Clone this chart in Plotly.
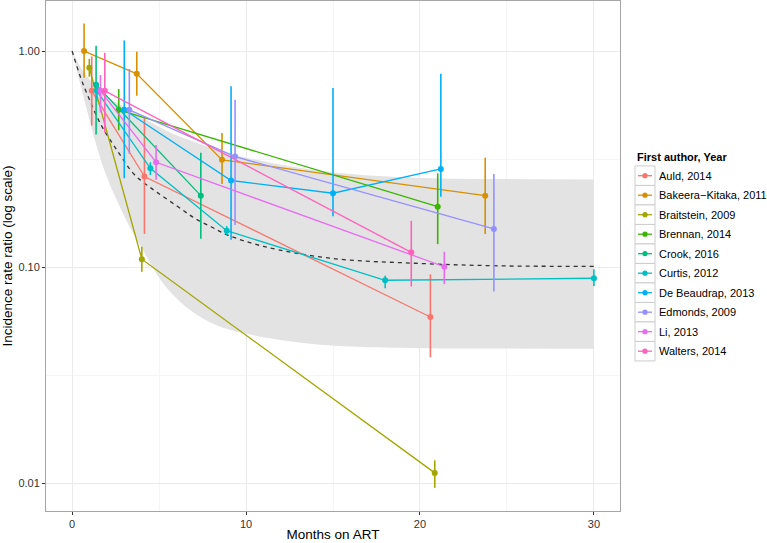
import plotly.graph_objects as go

# Pooled fit (dashed) and its band
fit_x = [0, 0.48, 0.86, 1.63, 2.59, 3.55, 4.16, 4.89, 6.07, 7.03, 7.99, 8.95, 11.0, 14.9, 19.7, 24.5, 30]
fit_y = [1.0, 0.758, 0.634, 0.461, 0.347, 0.27, 0.245, 0.222, 0.191, 0.169, 0.154, 0.141, 0.125, 0.110, 0.1044, 0.1016, 0.101]

band_hi_x = [0, 0.5, 1, 1.67, 2.5, 3.55, 4.48, 5.5, 7.36, 9, 11.2, 14.1, 16, 20, 25, 30]
band_hi_y = [1.0, 0.84, 0.74, 0.65, 0.58, 0.524, 0.471, 0.425, 0.372, 0.337, 0.307, 0.28, 0.27, 0.259, 0.256, 0.255]
band_lo_x = [0, 0.4, 0.86, 1.3, 1.86, 2.5, 3.2, 3.97, 5.11, 6.0, 7.0, 8.3, 9.9, 11.7, 13.7, 16, 20, 25, 30]
band_lo_y = [1.0, 0.74, 0.531, 0.39, 0.28, 0.21, 0.16, 0.124, 0.087, 0.072, 0.0616, 0.054, 0.0495, 0.0465, 0.0443, 0.043, 0.0422, 0.0421, 0.042]

# Studies: months, IRR, upper and lower limits
studies = ["Auld, 2014", "Bakeera−Kitaka, 2011", "Braitstein, 2009", "Brennan, 2014", "Crook, 2016",
           "Curtis, 2012", "De Beaudrap, 2013", "Edmonds, 2009", "Li, 2013", "Walters, 2014"]
colors = ["#F8766D", "#D89000", "#A3A500", "#39B600", "#00BF7D",
          "#00BFC4", "#00B0F6", "#9590FF", "#E76BF3", "#FF62BC"]

months = [
    [1.13, 4.16, 20.6],
    [0.69, 3.72, 8.62, 23.75],
    [0.99, 4.01, 20.85],
    [2.68, 21.02],
    [1.38, 7.4],
    [1.42, 4.5, 8.89, 18.0, 30.0],
    [3.0, 9.14, 15.0, 21.2],
    [3.29, 9.37, 24.25],
    [1.63, 4.83, 21.4],
    [1.88, 19.5],
]
irr = [
    [0.655, 0.263, 0.0589],
    [1.0, 0.785, 0.314, 0.2145],
    [0.837, 0.109, 0.0112],
    [0.535, 0.1908],
    [0.698, 0.2145],
    [0.655, 0.287, 0.1477, 0.0871, 0.089],
    [0.535, 0.252, 0.22, 0.285],
    [0.535, 0.325, 0.1505],
    [0.655, 0.306, 0.1006],
    [0.655, 0.1173],
]
irr_hi = [
    [0.945, 0.49, 0.0928],
    [1.34, 0.993, 0.418, 0.321],
    [0.921, 0.1246, 0.0128],
    [0.668, 0.272],
    [1.058, 0.339],
    [0.72, 0.306, 0.155, 0.0913, 0.098],
    [1.12, 0.688, 0.674, 0.785],
    [0.826, 0.595, 0.27],
    [0.775, 0.368, 0.118],
    [0.982, 0.164],
]
irr_lo = [
    [0.452, 0.1426, 0.0384],
    [0.752, 0.621, 0.243, 0.1426],
    [0.76, 0.0954, 0.00955],
    [0.43, 0.128],
    [0.411, 0.1356],
    [0.6, 0.267, 0.141, 0.0799, 0.082],
    [0.258, 0.134, 0.172, 0.212],
    [0.335, 0.157, 0.0772],
    [0.52, 0.254, 0.0836],
    [0.42, 0.0815],
]

FONT = "Liberation Sans, Arial, sans-serif"
W, H = 767, 543
M = dict(l=46, r=147, t=1, b=32)
PW, PH = W - M["l"] - M["r"], H - M["t"] - M["b"]


def px(x):  # pixel -> paper x
    return (x - M["l"]) / PW


def py(y):  # pixel -> paper y
    return (H - M["b"] - y) / PH


fig = go.Figure()

fig.add_trace(go.Scatter(x=band_lo_x, y=band_lo_y, mode="lines", line=dict(width=0, shape="spline"),
                         showlegend=False, hoverinfo="skip"))
fig.add_trace(go.Scatter(x=band_hi_x, y=band_hi_y, mode="lines", line=dict(width=0, shape="spline"),
                         fill="tonexty", fillcolor="#E3E3E3", showlegend=False, hoverinfo="skip"))
fig.add_trace(go.Scatter(x=fit_x, y=fit_y, mode="lines",
                         line=dict(color="#333333", width=1.3, dash="4px,4px", shape="spline"),
                         showlegend=False, hoverinfo="skip"))

for name, col, xs, ys, hi, lo in zip(studies, colors, months, irr, irr_hi, irr_lo):
    fig.add_trace(go.Scatter(
        x=xs, y=ys, name=name, mode="lines+markers", showlegend=False,
        line=dict(color=col, width=1.3),
        marker=dict(color=col, size=6),
        error_y=dict(type="data", symmetric=False,
                     array=[h - v for h, v in zip(hi, ys)],
                     arrayminus=[v - l for v, l in zip(ys, lo)],
                     color=col, thickness=1.6, width=0),
    ))

# ggplot-style legend: boxed keys
key_left, key_w, row_h, first_row = 635, 20, 19.5, 175.7
shapes, annotations = [], []
annotations.append(dict(x=px(key_left), y=py(first_row - 19), xref="paper", yref="paper",
                        text="<b>First author, Year</b>", showarrow=False, xanchor="left",
                        yanchor="middle", font=dict(size=11, color="#000000")))
for i, (name, col) in enumerate(zip(studies, colors)):
    yc = first_row + i * row_h
    shapes.append(dict(type="rect", xref="paper", yref="paper",
                       x0=px(key_left), x1=px(key_left + key_w),
                       y0=py(yc - row_h / 2), y1=py(yc + row_h / 2),
                       line=dict(color="#CCCCCC", width=1), fillcolor="white"))
    shapes.append(dict(type="line", xref="paper", yref="paper",
                       x0=px(key_left + 3), x1=px(key_left + key_w - 3), y0=py(yc), y1=py(yc),
                       line=dict(color=col, width=1.3)))
    shapes.append(dict(type="circle", xref="paper", yref="paper",
                       x0=px(key_left + key_w / 2 - 2.6), x1=px(key_left + key_w / 2 + 2.6),
                       y0=py(yc - 2.6), y1=py(yc + 2.6),
                       line=dict(color=col, width=0), fillcolor=col))
    annotations.append(dict(x=px(key_left + key_w + 2), y=py(yc), xref="paper", yref="paper",
                            text=name, showarrow=False, xanchor="left", yanchor="middle",
                            font=dict(size=11, color="#000000")))

fig.update_layout(
    width=W, height=H, margin=M,
    paper_bgcolor="white", plot_bgcolor="white",
    font=dict(family=FONT, color="#000000"),
    showlegend=False, shapes=shapes, annotations=annotations,
)
fig.update_xaxes(
    range=[-1.5, 31.5], tickvals=[0, 10, 20, 30], ticks="outside", ticklen=3, tickcolor="#333333",
    tickfont=dict(size=11, color="#333333"), automargin=False,
    showgrid=True, gridcolor="#EBEBEB", gridwidth=1, zeroline=False,
    minor=dict(tickvals=[5, 15, 25], showgrid=True, gridcolor="#F5F5F5", ticks=""),
    showline=True, mirror=True, linecolor="#A6A6A6", linewidth=1,
    title=dict(text="Months on ART", font=dict(size=13.5), standoff=0),
)
fig.update_yaxes(
    type="log", range=[-2.127, 0.2315],
    tickvals=[0.01, 0.1, 1], ticktext=["0.01", "0.10", "1.00"],
    ticks="outside", ticklen=3, tickcolor="#333333",
    tickfont=dict(size=11, color="#333333"), automargin=False,
    showgrid=True, gridcolor="#EBEBEB", gridwidth=1, zeroline=False,
    minor=dict(tickvals=[0.0316, 0.316], showgrid=True, gridcolor="#F5F5F5", ticks=""),
    showline=True, mirror=True, linecolor="#A6A6A6", linewidth=1,
    title=dict(text="Incidence rate ratio (log scale)", font=dict(size=13.5), standoff=6),
)

fig.write_html("out.html", config={"displayModeBar": False},
               post_script="document.body.style.margin='0px';")
